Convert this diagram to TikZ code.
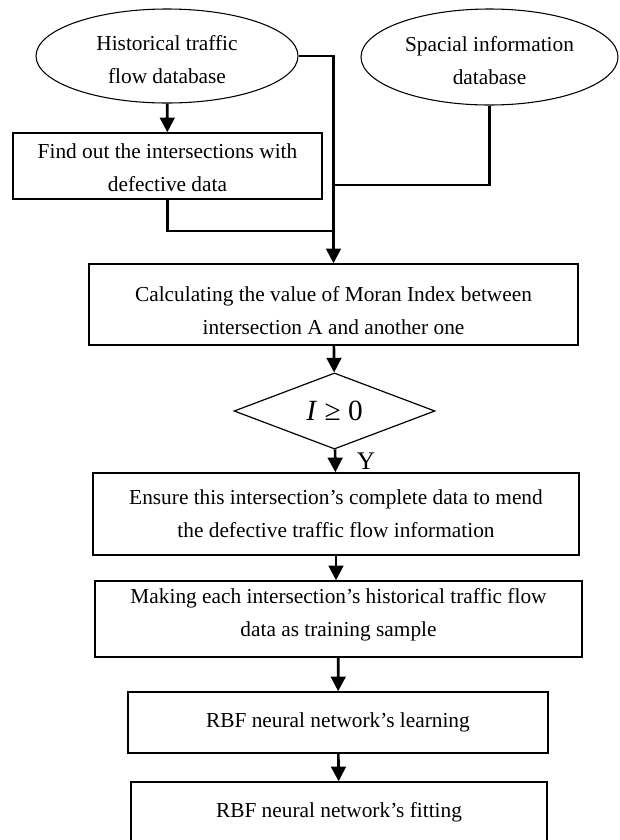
\documentclass[tikz,border=0pt]{standalone}
\usepackage{fontspec}
\setmainfont{Liberation Serif}
\usetikzlibrary{shapes.geometric,arrows.meta}
\tikzset{
  flowbox/.style={draw,line width=1.1pt,align=center,inner sep=0pt},
  dbase/.style={draw,ellipse,line width=0.8pt,align=center,inner sep=0pt},
  test/.style={draw,diamond,line width=0.9pt,inner sep=0pt},
  link/.style={line width=2pt},
}
% invisible struts to move the text inside its box
\newcommand\dropby[1]{\rule{0pt}{#1}}
\newcommand\liftby[1]{\rule[-#1]{0pt}{#1}}
\begin{document}
\begin{tikzpicture}[x=0.75pt,y=-0.75pt,>={Triangle[width=11pt,length=11pt]},font=\fontsize{16}{24.5}\selectfont]
\useasboundingbox (0,0) rectangle (619,840);
% data sources
\node[dbase,minimum width=196.5pt,minimum height=70.5pt] (hist) at (167,56) {\dropby{17pt}Historical traffic\\flow database};
\node[dbase,minimum width=192.75pt,minimum height=72pt] (spat) at (489.5,57) {\dropby{17pt}Spacial information\\database};
\node[flowbox,minimum width=231.75pt,minimum height=49.5pt] (find) at (167.5,166) {\dropby{14pt}Find out the intersections with\\defective data};
% main chain
\node[flowbox,minimum width=366.75pt,minimum height=60.75pt] (calc) at (333.5,304.5) {\dropby{20pt}Calculating the value of Moran Index between\\intersection A and another one};
\node[test,minimum width=150.75pt,minimum height=49.5pt,font=\fontsize{22}{24}\selectfont] (cond) at (334.5,411) {\textit{I} ≥ 0};
\node[font=\fontsize{19}{24}\selectfont] (yes) at (366,461) {Y};
\node[flowbox,minimum width=364.5pt,minimum height=61.5pt] (ensure) at (336,514) {Ensure this intersection’s complete data to mend\\the defective traffic flow information};
\node[flowbox,minimum width=365.25pt,minimum height=57pt] (make) at (338.5,619) {Making each intersection’s historical traffic flow\\data as training sample\liftby{10pt}};
\node[flowbox,minimum width=315pt,minimum height=45.75pt] (learn) at (338,722.5) {RBF neural network’s learning};
\node[flowbox,minimum width=312pt,minimum height=45pt] (fit) at (339,812) {RBF neural network’s fitting};
\coordinate (j1) at (calc.north |- 0,185);
\coordinate (j2) at (calc.north |- 0,231);
% connectors
\draw[link,->] (hist) -- (find);
\draw[link,->] (hist.east) -| (calc.north);
\draw[link] (spat.south) |- (j1);
\draw[link] (find.south) |- (j2);
\draw[link,->] (calc) -- (cond);
\draw[link,->] (cond) -- (ensure);
\draw[link,->] (ensure.south) -- (make.north -| ensure.south);
\draw[link,->] (make) -- (learn);
\draw[link,->] (learn) -- (fit);
\end{tikzpicture}
\end{document}
